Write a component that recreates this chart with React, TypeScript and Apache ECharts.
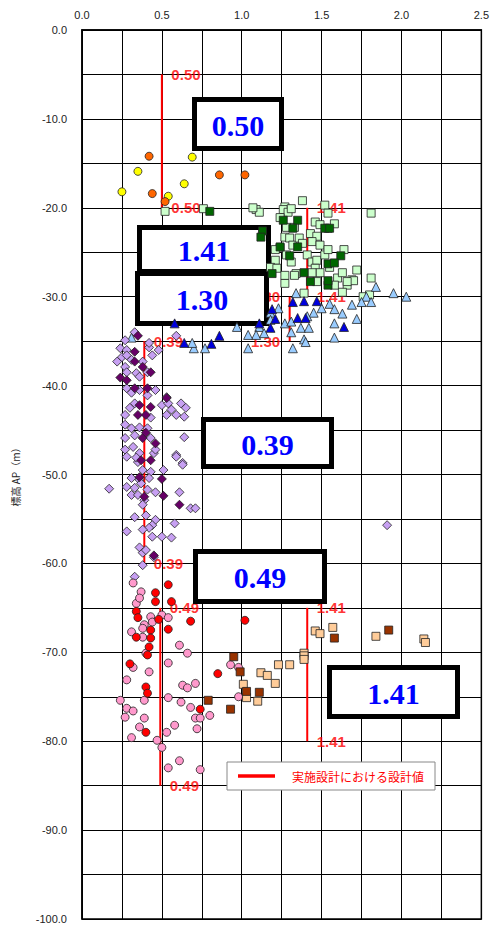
import React, { useEffect, useRef } from "react";
import * as echarts from "echarts";

// ---- axis settings ----
const xMin = 0;
const xMax = 2.5;
const xStep = 0.25;
const yMin = -100;
const yMax = 0;
const yStep = 5;
const yAxisName = "標高 AP（m）";
const legendName = "実施設計における設計値";

// ---- design values (red lines) ----
const designValues = [0.5, 1.41, 1.3, 0.39, 0.49, 1.41];
const designTop = [-5, -20, -30, -35, -65, -65];
const designBottom = [-20, -30, -35, -60, -85, -80];
const designLabelSide = ["right", "right", "left", "right", "right", "right"];

// ---- boxed annotation values ----
const boxLabels = ["0.50", "1.41", "1.30", "0.39", "0.49", "1.41"];

// ---- scatter data [x, elevation] ----
const yellowCircles = [[0.25, -18.2], [0.35, -15.9], [0.64, -17.3], [0.54, -18.7], [0.69, -14.3]];
const orangeCircles = [[0.42, -14.2], [0.86, -16.3], [1.02, -16.3], [0.44, -18.4], [0.52, -19.3]];

const lightGreenSquares = [
  [1.09, -20.2], [1.11, -20.5], [1.38, -19.2], [1.27, -19.9], [1.26, -20.2], [1.29, -20.5], [1.31, -20.1],
  [1.24, -21.1], [1.28, -22.2], [1.33, -22.2], [1.27, -23.3], [1.3, -23.4], [1.32, -24.2], [1.36, -23.4],
  [1.38, -24.0], [1.43, -22.9], [1.47, -23.2], [1.44, -23.8], [1.49, -24.2], [1.46, -21.6], [1.49, -21.9],
  [1.54, -22.3], [1.58, -21.8], [1.52, -19.7], [1.54, -20.6], [1.81, -20.6], [1.24, -24.5], [1.28, -25.3],
  [1.31, -26.1], [1.34, -27.4], [1.21, -25.9], [1.41, -25.3], [1.44, -26.1], [1.47, -25.9], [1.52, -25.3],
  [1.54, -24.7], [1.64, -24.7], [1.46, -26.8], [1.49, -27.3], [1.55, -26.7], [1.6, -27.9], [1.63, -27.3],
  [1.66, -28.7], [1.69, -28.1], [1.63, -29.5], [1.76, -30.0], [1.8, -29.8], [1.27, -28.5], [1.44, -27.3],
  [0.52, -20.4], [0.76, -20.1], [1.07, -20.0], [1.81, -27.9], [1.7, -28.2], [1.72, -27.0], [1.21, -24.7],
  [1.18, -26.7], [1.22, -26.8], [1.27, -27.6], [1.33, -27.6], [1.39, -29.6], [1.47, -28.3], [1.58, -28.7],
  [1.66, -28.3],
];
const darkGreenSquares = [
  [1.26, -21.4], [1.35, -21.4], [1.32, -22.3], [1.13, -22.6], [1.12, -23.3], [1.24, -24.4], [1.35, -24.4],
  [1.3, -25.4], [1.52, -22.3], [1.55, -22.3], [1.62, -25.4], [1.54, -26.3], [1.58, -26.2], [1.39, -27.3],
  [1.19, -27.4], [1.43, -28.3], [1.54, -28.7], [1.54, -28.2], [0.8, -20.4],
];

const lightBlueTriangles = [
  [1.34, -29.6], [1.84, -28.9], [1.95, -29.6], [2.03, -30.0], [1.78, -30.0], [1.81, -30.6], [1.55, -30.8],
  [1.5, -31.3], [1.58, -31.4], [1.63, -31.9], [1.45, -31.8], [1.41, -32.2], [1.72, -32.5], [1.58, -33.0],
  [1.23, -31.3], [1.18, -31.8], [1.18, -32.6], [1.27, -33.0], [1.31, -32.8], [1.31, -34.0], [1.37, -33.5],
  [1.42, -33.5], [1.39, -34.8], [1.4, -35.1], [1.58, -34.6], [1.32, -35.8], [1.11, -33.4], [1.09, -34.3],
  [1.14, -34.1], [1.04, -34.3], [1.04, -35.8], [0.97, -33.4], [0.31, -34.6], [0.7, -35.8], [0.77, -35.8],
  [0.69, -35.2], [1.69, -30.9], [1.75, -30.6],
];
const darkBlueTriangles = [
  [1.32, -30.6], [1.39, -30.5], [1.47, -30.5], [1.19, -31.4], [1.21, -32.5], [1.35, -32.4], [1.4, -32.4],
  [1.64, -33.4], [1.18, -33.5], [1.11, -33.0], [0.86, -34.4], [0.81, -35.3], [0.64, -35.2], [0.58, -33.0],
];

const lightPurpleDiamonds = [
  [0.33, -34.0], [0.27, -34.9], [0.24, -35.8], [0.28, -36.0], [0.22, -37.3], [0.25, -36.8], [0.28, -36.6],
  [0.31, -37.1], [0.27, -37.9], [0.28, -38.5], [0.34, -38.6], [0.38, -37.3], [0.42, -35.7], [0.44, -36.6],
  [0.48, -36.0], [0.41, -38.5], [0.36, -39.0], [0.28, -40.3], [0.31, -40.8], [0.36, -40.5], [0.41, -41.1],
  [0.46, -40.5], [0.53, -41.3], [0.5, -42.2], [0.54, -42.0], [0.62, -42.0], [0.65, -42.5], [0.53, -43.3],
  [0.56, -42.7], [0.59, -43.3], [0.64, -43.5], [0.27, -43.3], [0.3, -42.5], [0.33, -42.0], [0.27, -44.4],
  [0.31, -44.8], [0.36, -44.7], [0.43, -43.6], [0.41, -44.8], [0.64, -45.8], [0.27, -45.9], [0.33, -45.6],
  [0.43, -45.9], [0.27, -47.2], [0.32, -46.9], [0.36, -47.6], [0.45, -47.6], [0.59, -47.8], [0.35, -48.6],
  [0.63, -48.7], [0.46, -47.2], [0.59, -34.4], [0.42, -35.2], [0.28, -48.0], [0.34, -48.1], [0.59, -48.0],
  [0.63, -48.9], [0.51, -49.5], [0.43, -49.7], [0.38, -49.5], [0.31, -50.4], [0.36, -50.6], [0.42, -50.4],
  [0.28, -51.4], [0.33, -51.5], [0.37, -51.0], [0.41, -51.7], [0.31, -52.3], [0.35, -52.3], [0.39, -52.9],
  [0.38, -53.4], [0.46, -52.0], [0.61, -52.0], [0.17, -51.6], [0.68, -53.8], [0.71, -53.8], [0.33, -54.8],
  [0.4, -54.6], [0.46, -55.1], [0.44, -55.7], [0.42, -56.0], [0.38, -56.2], [0.28, -56.4], [0.58, -55.5],
  [0.5, -57.0], [0.56, -57.1], [0.44, -57.0], [0.36, -58.2], [0.38, -58.8], [0.4, -58.5], [0.45, -59.3],
  [0.38, -60.2], [0.33, -61.5], [1.91, -55.7],
];
const darkPurpleDiamonds = [
  [0.35, -34.4], [0.33, -36.2], [0.33, -37.3], [0.38, -37.9], [0.43, -38.5], [0.24, -39.1], [0.28, -39.4],
  [0.33, -40.3], [0.41, -40.3], [0.53, -41.4], [0.36, -42.2], [0.43, -42.4], [0.4, -43.3], [0.35, -43.3],
  [0.38, -45.9], [0.4, -45.3], [0.46, -46.5], [0.37, -48.4], [0.43, -48.4], [0.36, -50.3], [0.5, -50.5],
  [0.39, -52.5], [0.51, -52.4], [0.61, -53.4], [0.45, -59.1],
];

const pinkCircles = [
  [0.32, -62.2], [0.37, -63.2], [0.34, -64.5], [0.36, -63.9], [0.43, -66.0], [0.44, -66.6], [0.39, -66.9],
  [0.31, -67.7], [0.38, -67.3], [0.38, -68.3], [0.5, -65.8], [0.54, -66.1], [0.61, -69.2], [0.66, -70.1],
  [0.4, -70.1], [0.54, -71.2], [0.32, -71.7], [0.42, -72.2], [0.28, -73.1], [0.63, -73.7], [0.66, -74.0],
  [0.71, -73.5], [0.54, -75.1], [0.62, -75.6], [0.24, -75.4], [0.39, -75.4], [0.93, -71.4], [0.98, -71.7],
  [0.98, -75.0], [0.28, -76.3], [0.32, -76.6], [0.27, -77.3], [0.39, -77.4], [0.36, -78.4], [0.31, -79.6],
  [0.68, -76.2], [0.58, -78.2], [0.53, -79.0], [0.47, -79.9], [0.5, -80.7], [0.71, -77.4], [0.74, -77.4],
  [0.8, -77.1], [0.72, -78.6], [0.61, -82.2], [0.54, -83.0], [0.74, -83.2],
];
const redCircles = [
  [0.54, -62.4], [0.46, -63.3], [0.46, -64.3], [0.56, -64.3], [0.34, -65.4], [0.35, -66.1], [0.48, -66.3],
  [0.43, -67.5], [0.34, -68.3], [0.43, -68.4], [0.54, -67.4], [0.42, -69.4], [0.41, -70.3], [0.3, -71.3],
  [0.68, -66.5], [1.02, -66.4], [0.85, -72.4], [0.4, -73.9], [0.41, -74.6], [0.74, -76.4], [0.4, -79.0],
];

const lightOrangeSquares = [
  [1.46, -67.6], [1.49, -67.9], [1.57, -67.2], [1.84, -68.2], [2.14, -68.5], [2.15, -68.9], [1.39, -70.1],
  [1.39, -70.4], [1.39, -70.8], [1.3, -71.4], [1.23, -71.4], [1.12, -72.3], [1.16, -72.6], [1.21, -73.5],
  [1.01, -73.6], [1.03, -75.1], [1.1, -75.5],
];
const brownSquares = [
  [1.92, -67.5], [1.58, -68.4], [0.95, -70.5], [0.99, -72.2], [1.03, -74.4], [1.11, -74.5], [0.79, -75.4],
  [0.93, -76.4],
];

// ---- styling (kept apart from data) ----
const boxRects = [
  [194.5, 99.5, 87, 49],
  [139.5, 227.5, 129, 44],
  [137.5, 273.5, 129, 50],
  [203.5, 419.5, 128, 47],
  [195.5, 551.5, 129, 50],
  [329.5, 667.5, 128, 49],
];

const RED = "#ff0000";
const SANS = '"Liberation Sans", Arial, sans-serif';

function scatter(data: number[][], symbol: string, color: string, size: number) {
  return {
    type: "scatter",
    data,
    symbol,
    symbolSize: size,
    itemStyle: { color, borderColor: "#222", borderWidth: 0.8, opacity: 1 },
    z: 3,
    silent: true,
  };
}

export default function App() {
  const ref = useRef<HTMLDivElement>(null);

  useEffect(() => {
    document.body.style.margin = "0";
    if (!ref.current) return;
    const chart = echarts.init(ref.current, undefined, { renderer: "svg" });

    const lineSeries = designValues.map((v, i) => ({
      type: "line",
      name: legendName,
      data: [
        [v, designTop[i]],
        [v, designBottom[i]],
      ],
      symbol: "none",
      lineStyle: { color: RED, width: 2 },
      itemStyle: { color: RED },
      z: 1,
      silent: true,
    }));

    const labelData: any[] = [];
    designValues.forEach((v, i) => {
      [designTop[i], designBottom[i]].forEach((y) => {
        labelData.push({ value: [v, y], label: { position: designLabelSide[i] } });
      });
    });

    const labelSeries = {
      type: "scatter",
      data: labelData,
      symbolSize: 1,
      itemStyle: { color: "rgba(0,0,0,0)" },
      label: {
        show: true,
        formatter: (p: any) => p.value[0].toFixed(2),
        color: RED,
        fontWeight: "bold",
        fontSize: 15,
        fontFamily: SANS,
        distance: 9,
      },
      z: 1,
      silent: true,
    };

    const graphics: any[] = [];
    boxRects.forEach((b, i) => {
      graphics.push({
        type: "rect",
        shape: { x: b[0], y: b[1], width: b[2], height: b[3] },
        style: { fill: "#ffffff", stroke: "#000000", lineWidth: 5 },
        z: 2,
        silent: true,
      });
      graphics.push({
        type: "text",
        x: b[0] + b[2] / 2,
        y: b[1] + b[3] / 2 + 1,
        style: {
          text: boxLabels[i],
          fill: "#0000ff",
          font: 'bold 30px "Liberation Serif", "Times New Roman", serif',
          textAlign: "center",
          textVerticalAlign: "middle",
          align: "center",
          verticalAlign: "middle",
        },
        z: 2,
        silent: true,
      });
    });

    chart.setOption({
      animation: false,
      backgroundColor: "#ffffff",
      grid: {
        left: 82,
        right: 6,
        top: 30,
        bottom: 8,
        show: true,
        borderColor: "#000",
        borderWidth: 1.5,
        backgroundColor: "transparent",
      },
      xAxis: {
        type: "value",
        position: "top",
        min: xMin,
        max: xMax,
        interval: xStep,
        axisLine: { show: true, onZero: false, lineStyle: { color: "#000", width: 1.5 } },
        axisTick: { show: false },
        axisLabel: {
          margin: 10,
          color: "#222",
          fontSize: 11,
          fontFamily: SANS,
          formatter: (v: number) => (Math.round(v * 4) % 2 === 0 ? v.toFixed(1) : ""),
        },
        splitLine: { show: true, lineStyle: { color: "#000", width: 1 } },
      },
      yAxis: {
        type: "value",
        min: yMin,
        max: yMax,
        interval: yStep,
        name: yAxisName,
        nameLocation: "middle",
        nameGap: 62,
        nameRotate: 90,
        nameTextStyle: { color: "#222", fontSize: 10, fontFamily: '"Noto Sans CJK JP", sans-serif' },
        axisLine: { show: true, onZero: false, lineStyle: { color: "#000", width: 1.5 } },
        axisTick: { show: false },
        axisLabel: {
          margin: 15,
          color: "#222",
          fontSize: 11,
          fontFamily: SANS,
          formatter: (v: number) => (Math.round(v) % 10 === 0 ? v.toFixed(1) : ""),
        },
        splitLine: { show: true, lineStyle: { color: "#000", width: 1 } },
      },
      legend: {
        data: [{ name: legendName, icon: "rect" }],
        left: 227,
        top: 762,
        orient: "horizontal",
        itemWidth: 37,
        itemHeight: 3.5,
        padding: [8, 11, 8, 11],
        backgroundColor: "#ffffff",
        borderColor: "#888888",
        borderWidth: 1,
        textStyle: {
          color: RED,
          fontSize: 12,
          fontFamily: '"Noto Sans CJK JP", sans-serif',
          padding: [0, 0, 0, 12],
        },
        selectedMode: false,
        z: 5,
      },
      graphic: graphics,
      series: [
        ...lineSeries,
        labelSeries,
        scatter(yellowCircles, "circle", "#ffff00", 8),
        scatter(orangeCircles, "circle", "#ff6600", 8),
        scatter(lightGreenSquares, "rect", "#ccffcc", 8),
        scatter(darkGreenSquares, "rect", "#006600", 8),
        scatter(lightBlueTriangles, "triangle", "#99ccff", 9),
        scatter(darkBlueTriangles, "triangle", "#0000dd", 9),
        scatter(lightPurpleDiamonds, "diamond", "#c7a0f2", 9),
        scatter(darkPurpleDiamonds, "diamond", "#660066", 9),
        scatter(pinkCircles, "circle", "#ff99cc", 8),
        scatter(redCircles, "circle", "#ff0000", 8),
        scatter(lightOrangeSquares, "rect", "#ffcc99", 8),
        scatter(brownSquares, "rect", "#993300", 8),
      ],
    });

    return () => {
      chart.dispose();
    };
  }, []);

  return <div ref={ref} style={{ width: 492, height: 927 }} />;
}
